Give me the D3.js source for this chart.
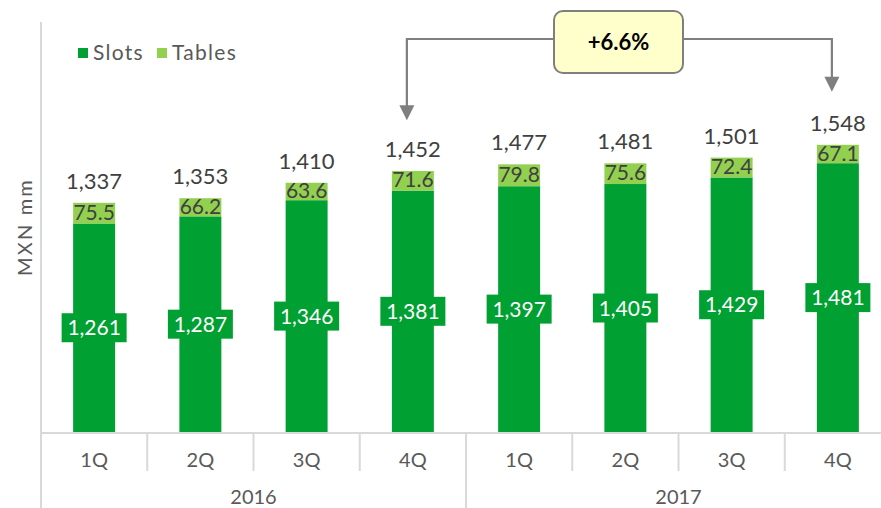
<!DOCTYPE html>
<html>
<head>
<meta charset="utf-8">
<script src="https://cdn.jsdelivr.net/npm/d3@7"></script>
<style>
  html, body { margin: 0; padding: 0; background: #ffffff; }
  svg { display: block; font-family: "Lato", "Open Sans", sans-serif; }
</style>
</head>
<body>
<svg id="chart" width="881" height="508"></svg>
<script>
const quarters = ["1Q", "2Q", "3Q", "4Q", "1Q", "2Q", "3Q", "4Q"];
const years = ["2016", "2017"];
const slots = [1261, 1287, 1346, 1381, 1397, 1405, 1429, 1481];
const tables = [75.5, 66.2, 63.6, 71.6, 79.8, 75.6, 72.4, 67.1];
const totals = [1337, 1353, 1410, 1452, 1477, 1481, 1501, 1548];
const seriesNames = ["Slots", "Tables"];
const yDomain = [500, 2000];

const C_SLOTS = "#00A032";
const C_TABLES = "#92D050";
const GRID = "#d9d9d9";
const AXIS_TEXT = "#595959";
const LABEL_TEXT = "#404040";
const W = 400;

const svg = d3.select("#chart");
const ids = quarters.map((q, i) => i);
const data = ids.map(i => ({ i, q: quarters[i], year: years[Math.floor(i / 4)], slots: slots[i], tables: tables[i], total: totals[i] }));

const x = d3.scaleBand().domain(ids).range([41, 891]).padding(0);
const y = d3.scaleLinear().domain(yDomain).range([432, 21]);
const bw = x.bandwidth();
const barW = bw * 0.395;
const fmt = d3.format(",");

// bars
const g = svg.append("g");
g.selectAll("rect.slots").data(data).join("rect")
  .attr("class", "slots")
  .attr("x", d => x(d.i) + (bw - barW) / 2)
  .attr("width", barW)
  .attr("y", d => y(d.slots))
  .attr("height", d => y(yDomain[0]) - y(d.slots))
  .attr("fill", C_SLOTS);

g.selectAll("rect.tables").data(data).join("rect")
  .attr("class", "tables")
  .attr("x", d => x(d.i) + (bw - barW) / 2)
  .attr("width", barW)
  .attr("y", d => y(d.slots + d.tables))
  .attr("height", d => y(d.slots) - y(d.slots + d.tables))
  .attr("fill", C_TABLES);

// slots labels with green boxes
const sl = g.selectAll("g.slab").data(data).join("g").attr("class", "slab")
  .attr("transform", d => `translate(${x(d.i) + bw / 2},${(y(yDomain[0]) + y(d.slots)) / 2})`);
sl.append("rect").attr("x", -32.5).attr("y", -14.5).attr("width", 65).attr("height", 29).attr("fill", C_SLOTS);
sl.append("text").attr("text-anchor", "middle").attr("dy", "0.36em")
  .attr("fill", "#ffffff").attr("font-size", 21).attr("font-weight", W)
  .text(d => fmt(d.slots));

// tables labels
g.selectAll("text.tlab").data(data).join("text").attr("class", "tlab")
  .attr("x", d => x(d.i) + bw / 2)
  .attr("y", d => (y(d.slots) + y(d.slots + d.tables)) / 2 - 1)
  .attr("dy", "0.36em")
  .attr("text-anchor", "middle").attr("fill", LABEL_TEXT).attr("font-size", 21).attr("font-weight", W)
  .text(d => d.tables.toFixed(1));

// totals labels
g.selectAll("text.tot").data(data).join("text").attr("class", "tot")
  .attr("x", d => x(d.i) + bw / 2)
  .attr("y", d => y(d.total) - 14)
  .attr("text-anchor", "middle").attr("fill", LABEL_TEXT).attr("font-size", 22).attr("font-weight", W)
  .text(d => fmt(d.total));

// axes lines
const ax = svg.append("g");
ax.append("line").attr("x1", 41).attr("x2", 41).attr("y1", 22).attr("y2", 508).attr("stroke", GRID).attr("stroke-width", 2);
ax.append("line").attr("x1", 41).attr("x2", 881).attr("y1", 433).attr("y2", 433).attr("stroke", GRID).attr("stroke-width", 2);
ids.slice(1).forEach(i => {
  const full = i % 4 === 0;
  ax.append("line").attr("x1", x(i)).attr("x2", x(i)).attr("y1", 433).attr("y2", full ? 508 : 471)
    .attr("stroke", GRID).attr("stroke-width", 2);
});
ax.selectAll("text.q").data(data).join("text").attr("class", "q")
  .attr("x", d => x(d.i) + bw / 2).attr("y", 467)
  .attr("text-anchor", "middle").attr("fill", AXIS_TEXT).attr("font-size", 20).attr("font-weight", W)
  .text(d => d.q);
years.forEach((yr, k) => {
  const x0 = x(k * 4), x1 = x(k * 4 + 3) + bw;
  ax.append("text").attr("x", (x0 + x1) / 2).attr("y", 504)
    .attr("text-anchor", "middle").attr("fill", AXIS_TEXT).attr("font-size", 20).attr("font-weight", W).text(yr);
});

// y title
svg.append("text").attr("transform", "translate(32,227) rotate(-90)")
  .attr("text-anchor", "middle").attr("fill", AXIS_TEXT).attr("font-size", 20).attr("font-weight", W)
  .attr("letter-spacing", "2.2px").text("MXN mm");

// legend
const lg = svg.append("g");
const legendItems = [{ name: seriesNames[0], c: C_SLOTS, x: 78 }, { name: seriesNames[1], c: C_TABLES, x: 157 }];
legendItems.forEach(it => {
  lg.append("rect").attr("x", it.x).attr("y", 48).attr("width", 10).attr("height", 10).attr("fill", it.c);
  lg.append("text").attr("x", it.x + 15).attr("y", 60).attr("fill", AXIS_TEXT).attr("font-size", 21)
    .attr("font-weight", W).attr("letter-spacing", "1.3px").text(it.name);
});

// callout
const iA = 3, iB = 7;
const ax1 = x(iA) + bw / 2 - 6, ax2 = x(iB) + bw / 2 - 6;
const tipA = y(totals[iA]) - 51, tipB = y(totals[iB]) - 53;
const lineY = 39;
const ann = svg.append("g");
const LINE_C = "#7f7f7f";
ann.append("path").attr("d", `M${ax1},${tipA - 14} V${lineY} H${ax2} V${tipB - 14}`)
  .attr("fill", "none").attr("stroke", LINE_C).attr("stroke-width", 2.2);
[[ax1, tipA], [ax2, tipB]].forEach(([px, py]) => {
  ann.append("path").attr("d", `M${px - 7.5},${py - 15} L${px + 7.5},${py - 15} L${px},${py} Z`).attr("fill", LINE_C);
});
ann.append("rect").attr("x", 554).attr("y", 11).attr("width", 129).attr("height", 62).attr("rx", 9)
  .attr("fill", "#FFFFCC").attr("stroke", LINE_C).attr("stroke-width", 2);
const pct = (totals[iB] / totals[iA] - 1) * 100;
ann.append("text").attr("x", 618.5).attr("y", 42).attr("dy", "0.36em").attr("text-anchor", "middle")
  .attr("font-size", 22).attr("font-weight", "bold").attr("fill", "#000000")
  .text("+" + pct.toFixed(1) + "%");
</script>
</body>
</html>
